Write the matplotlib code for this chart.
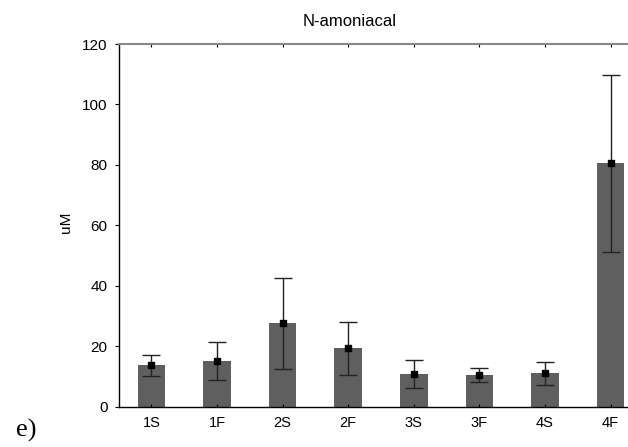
import matplotlib
matplotlib.use("Agg")
import matplotlib.pyplot as plt

categories = ["1S", "1F", "2S", "2F", "3S", "3F", "4S", "4F"]
means = [13.8, 15.2, 27.8, 19.3, 10.9, 10.4, 11.2, 80.5]
upper = [17.1, 21.3, 42.7, 27.9, 15.3, 12.8, 14.9, 109.7]
lower = [10.3, 8.9, 12.5, 10.5, 6.1, 8.1, 7.2, 51.3]

plt.rcParams['font.family'] = ['Liberation Sans', 'DejaVu Sans']

fig = plt.figure(figsize=(6.28, 4.47), dpi=100)
W, H = 628, 447
left_px, right_px = 118.7, 643.3
top_px, bot_px = 44.0, 406.7
ax = fig.add_axes([left_px / W, 1 - bot_px / H, (right_px - left_px) / W, (bot_px - top_px) / H])

x = list(range(len(categories)))
ax.bar(x, means, width=0.42, color="#5f5f5f", zorder=1)
yerr = [[m - l for m, l in zip(means, lower)], [u - m for m, u in zip(means, upper)]]
ax.errorbar(x, means, yerr=yerr, fmt="s", color="black", ecolor="#222222",
            markersize=5, elinewidth=1.0, capsize=6.5, capthick=1.0, zorder=3)

ax.set_xlim(-0.5, 7.5)
ax.set_ylim(0, 120)
ax.set_yticks([0, 20, 40, 60, 80, 100, 120])
ax.set_xticks(x)
ax.set_xticklabels(categories)
ax.tick_params(axis="y", direction="out", length=3, width=0.8, labelsize=11, pad=5)
ax.tick_params(axis="x", direction="in", length=2, width=0.8, labelsize=10.5, pad=7, top=True)

for s in ["left", "bottom"]:
    ax.spines[s].set_color("black")
    ax.spines[s].set_linewidth(1.0)
ax.spines["top"].set_color("#888888")
ax.spines["top"].set_linewidth(1.5)
ax.spines["right"].set_visible(False)

fig.text(66 / W, 1 - 222 / H, "uM", rotation=90, ha="center", va="center", fontsize=11)
fig.text(350 / W, 1 - 26 / H, "N-amoniacal", ha="center", va="baseline", fontsize=12)
fig.text(16 / W, 1 - 437 / H, "e)", ha="left", va="baseline", fontsize=19,
         family=["Liberation Serif", "DejaVu Serif"])

fig.savefig("out.png", dpi=100)
